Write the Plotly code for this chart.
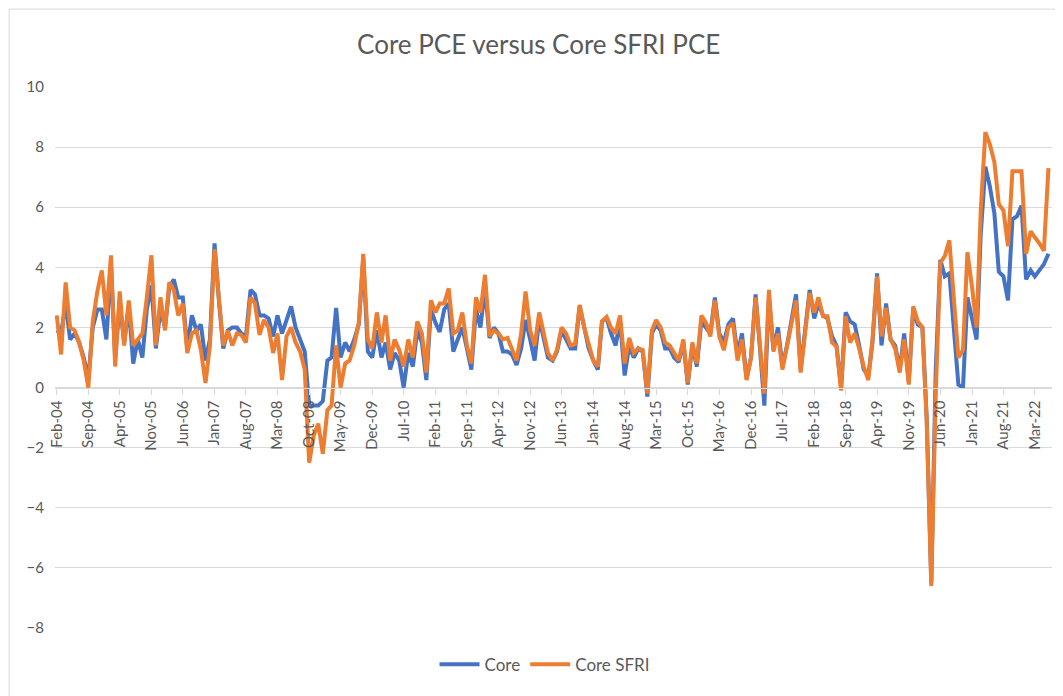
import pandas as pd
import plotly.graph_objects as go

# monthly series, Feb-04 .. Jun-22
start_month = '2004-02-01'

core = [1.9, 1.8, 2.8, 1.6, 1.8, 1.5, 1.0, 0.3, 2.0, 2.6,
        2.6, 1.6, 4.1, 1.0, 2.8, 1.5, 2.7, 0.8, 1.6, 1.0,
        2.6, 3.4, 1.3, 2.6, 2.0, 3.3, 3.6, 3.0, 3.0, 1.3,
        2.4, 1.9, 2.1, 0.9, 1.6, 4.8, 2.8, 1.3, 1.9, 2.0,
        2.0, 1.8, 1.7, 3.25, 3.1, 2.4, 2.4, 2.3, 1.7, 2.4,
        1.8, 2.25, 2.7, 2.0, 1.6, 1.2, -0.6, -0.6, -0.6, -0.45,
        0.9, 1.0, 2.65, 1.0, 1.5, 1.2, 1.6, 2.1, 4.3, 1.2,
        1.0, 1.9, 1.0, 1.5, 0.6, 1.15, 0.9, 0.0, 1.15, 0.7,
        1.9, 1.5, 0.25, 2.6, 2.15, 1.85, 2.6, 2.8, 1.2, 1.6,
        2.0, 1.3, 0.6, 2.6, 2.0, 3.3, 1.65, 2.0, 1.8, 1.2,
        1.2, 1.1, 0.75, 1.3, 2.25, 1.6, 0.9, 2.3, 1.6, 1.0,
        0.9, 1.2, 1.9, 1.6, 1.3, 1.3, 2.7, 2.0, 1.3, 0.9,
        0.6, 2.2, 2.3, 1.8, 1.4, 2.2, 0.4, 1.4, 1.0, 1.3,
        1.2, -0.3, 1.8, 2.1, 1.9, 1.3, 1.3, 1.0, 0.85, 1.5,
        0.1, 1.4, 0.7, 2.2, 2.0, 1.8, 3.0, 1.8, 1.5, 2.1,
        2.3, 1.1, 1.8, 0.3, 1.0, 3.1, 1.2, -0.6, 3.0, 1.3,
        2.0, 0.7, 1.4, 2.2, 3.1, 0.6, 2.0, 3.25, 2.3, 2.8,
        2.4, 2.3, 1.7, 1.4, 0.0, 2.5, 2.2, 2.1, 1.4, 0.6,
        0.4, 1.5, 3.8, 1.4, 2.8, 1.6, 1.4, 0.6, 1.8, 0.2,
        2.6, 2.1, 2.0, -1.0, -6.5, 0.6, 4.25, 3.7, 3.8, 1.8,
        0.1, 0.0, 3.0, 2.3, 1.6, 5.1, 7.35, 6.7, 5.8, 3.85,
        3.7, 2.9, 5.6, 5.7, 6.05, 3.6, 3.9, 3.7, 3.9, 4.1,
        4.45]

core_sfri = [2.4, 1.1, 3.5, 2.0, 1.9, 1.5, 0.9, 0.0, 2.2, 3.2,
             3.9, 2.4, 4.4, 0.7, 3.2, 1.4, 2.9, 1.4, 1.6, 1.8,
             3.0, 4.4, 1.4, 3.0, 1.9, 3.5, 3.25, 2.4, 2.8, 1.15,
             1.8, 1.9, 1.25, 0.15, 1.4, 4.6, 2.9, 1.4, 1.9, 1.4,
             1.8, 1.75, 1.5, 3.0, 2.8, 1.75, 2.25, 2.0, 1.15, 1.8,
             0.25, 1.7, 2.0, 1.5, 1.2, 0.6, -2.5, -1.6, -1.2, -2.2,
             -0.75, -0.6, 1.4, 0.0, 0.8, 0.9, 1.4, 2.15, 4.45, 1.6,
             1.3, 2.5, 1.5, 2.4, 0.9, 1.6, 1.25, 0.7, 1.6, 1.0,
             2.2, 1.8, 0.5, 2.9, 2.5, 2.8, 2.8, 3.3, 1.8, 1.9,
             2.5, 1.4, 0.8, 3.0, 2.5, 3.75, 1.7, 1.9, 1.8, 1.6,
             1.65, 1.25, 0.9, 1.8, 3.2, 1.9, 1.4, 2.5, 1.8, 1.15,
             0.9, 1.25, 2.0, 1.8, 1.4, 1.45, 2.75, 2.0, 1.45, 0.9,
             0.7, 2.2, 2.35, 2.0, 1.8, 2.4, 0.8, 1.65, 1.15, 1.3,
             1.25, -0.2, 1.9, 2.25, 2.0, 1.5, 1.4, 1.15, 0.9, 1.6,
             0.15, 1.5, 0.8, 2.4, 2.15, 1.7, 2.9, 1.7, 1.25, 2.0,
             2.15, 0.9, 1.6, 0.25, 1.0, 3.0, 1.4, -0.2, 3.25, 1.2,
             1.8, 0.6, 1.37, 2.1, 2.9, 0.5, 1.8, 3.15, 2.5, 3.0,
             2.37, 2.37, 1.5, 1.37, -0.1, 2.37, 1.5, 1.8, 1.3, 0.7,
             0.25, 1.6, 3.7, 1.7, 2.65, 1.6, 1.3, 0.5, 1.6, 0.1,
             2.7, 2.2, 2.0, -1.1, -6.6, -0.2, 4.15, 4.37, 4.9, 2.9,
             1.0, 1.25, 4.5, 3.35, 2.0, 5.9, 8.5, 8.1, 7.5, 6.1,
             5.9, 4.7, 7.2, 7.2, 7.2, 4.45, 5.2, 5.0, 4.8, 4.55,
             7.3]

months = pd.date_range(start_month, periods=len(core), freq='MS')

grey = '#595959'
grid = '#d9d9d9'
font = 'Lato, Calibri, sans-serif'

fig = go.Figure()
fig.add_trace(go.Scatter(x=months, y=core, name='Core', mode='lines',
                         line=dict(color='#4472C4', width=4)))
fig.add_trace(go.Scatter(x=months, y=core_sfri, name='Core SFRI', mode='lines',
                         line=dict(color='#ED7D31', width=4)))

# the page body adds an 8px offset, so the figure is 8px smaller each way
fig.update_layout(
    width=1055, height=688,
    paper_bgcolor='white', plot_bgcolor='white',
    margin=dict(l=47, r=11, t=79, b=68),
    font=dict(family=font, color=grey, size=15),
    title=dict(text='Core PCE versus Core SFRI PCE', x=0.503, xanchor='center',
               y=0.946, yanchor='middle', yref='container',
               font=dict(size=26, color=grey, family=font)),
    legend=dict(orientation='h', x=0.491, xanchor='center', y=-0.068, yanchor='middle',
                font=dict(size=17, color=grey), itemwidth=40),
    showlegend=True,
)

fig.update_yaxes(range=[-8, 10], dtick=2, showgrid=True, gridcolor=grid, gridwidth=1,
                 zeroline=False, showline=False, ticks='', ticklabelstandoff=10,
                 tickfont=dict(size=15, color=grey))

fig.update_xaxes(type='date', range=['2004-01-20', '2022-06-25'],
                 tick0=start_month, dtick='M7', tickformat='%b-%y', tickangle=-90,
                 anchor='free', position=8 / 18,
                 showgrid=False, zeroline=False, showline=True, linecolor=grid, linewidth=1,
                 ticks='outside', ticklen=6, tickcolor=grid,
                 tickfont=dict(size=15, color=grey))

# chart frame
fig.add_shape(type='rect', xref='paper', yref='paper',
              x0=-0.046, x1=1.02, y0=-0.14, y1=1.144,
              line=dict(color=grid, width=1), fillcolor='rgba(0,0,0,0)', layer='below')

fig.write_html("out.html")
